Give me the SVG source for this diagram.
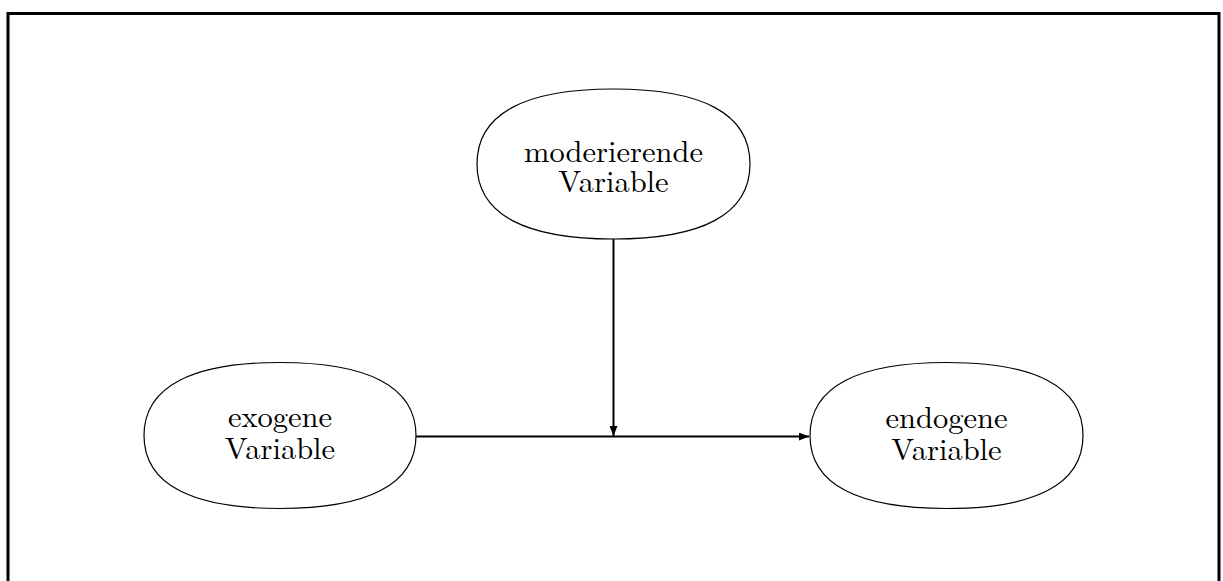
<svg xmlns="http://www.w3.org/2000/svg" width="1223" height="581" viewBox="0 0 1223 581">
  <defs>
    <style>
      .frame { fill: none; stroke: #000; stroke-width: 3; }
      .node { fill: #fff; stroke: #000; stroke-width: 1.2; }
      .label { font-family: "Latin Modern Roman", "Liberation Serif", "DejaVu Serif", serif; font-size: 30.5px; fill: #000; text-anchor: middle; }
      .edge { fill: none; stroke: #000; stroke-width: 2; }
    </style>
    <marker id="arrow" viewBox="0 0 10 8" refX="10" refY="4" markerWidth="10" markerHeight="8" markerUnits="userSpaceOnUse" orient="auto">
      <path d="M0,0 L10,4 L0,8 Z" fill="#000"/>
    </marker>
  </defs>
  <rect width="1223" height="581" fill="#fff"/>
  <path class="frame" d="M8,590 V13.5 H1219 V590"/>

  <g id="connectors">
    <path class="edge" d="M416,436.5 H809" marker-end="url(#arrow)"/>
    <path class="edge" d="M613.5,239 V436" marker-end="url(#arrow)"/>
  </g>

  <!-- squarish ovals: cubic arcs with control factor 0.68 -->
  <g id="moderierende">
    <path class="node" d="M477,164 C477,113 526,89 613.5,89 C701,89 750,113 750,164 C750,215 701,239 613.5,239 C526,239 477,215 477,164 Z"/>
    <text class="label" x="613.5" y="161.5">moderierende</text>
    <text class="label" x="613.5" y="191.5">Variable</text>
  </g>

  <g id="exogene">
    <path class="node" d="M144,435.5 C144,386 193,362.5 280,362.5 C367,362.5 416,386 416,435.5 C416,485 367,508.5 280,508.5 C193,508.5 144,485 144,435.5 Z"/>
    <text class="label" x="280" y="427">exogene</text>
    <text class="label" x="280" y="458.5">Variable</text>
  </g>

  <g id="endogene">
    <path class="node" d="M810,435.5 C810,386 859,362.5 946.5,362.5 C1034,362.5 1083,386 1083,435.5 C1083,485 1034,508.5 946.5,508.5 C859,508.5 810,485 810,435.5 Z"/>
    <text class="label" x="946.5" y="428">endogene</text>
    <text class="label" x="946.5" y="459.5">Variable</text>
  </g>
</svg>
